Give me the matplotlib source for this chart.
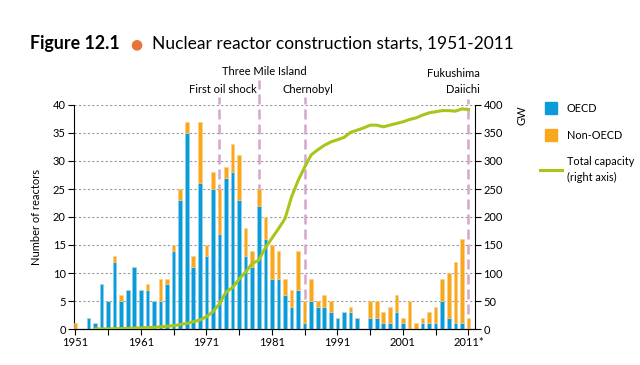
import matplotlib.pyplot as plt
import matplotlib.transforms as mtransforms
from matplotlib.lines import Line2D
import numpy as np

plt.rcParams['font.family'] = ['Lato', 'DejaVu Sans']

years = list(range(1951, 2012))
oecd = [0, 0, 2, 1, 8, 5, 12, 5, 7, 11,
        7, 7, 5, 5, 8, 14, 23, 35, 11, 26,
        13, 25, 17, 27, 28, 23, 13, 11, 22, 16,
        9, 9, 6, 4, 7, 1, 5, 4, 4, 3,
        2, 3, 3, 2, 0, 2, 2, 1, 1, 3,
        1, 0, 0, 1, 1, 1, 5, 2, 1, 1,
        0]
non_oecd = [1, 0, 0, 0, 0, 0, 1, 1, 0, 0,
            0, 1, 0, 4, 1, 1, 2, 2, 2, 11,
            2, 3, 8, 2, 5, 8, 5, 3, 3, 4,
            6, 5, 3, 3, 7, 4, 4, 1, 2, 2,
            0, 0, 1, 0, 0, 3, 3, 2, 3, 3,
            1, 5, 1, 1, 2, 3, 4, 8, 11, 15,
            2]

cap_years = list(range(1954, 2012))
capacity = [0, 0.1, 0.2, 0.5, 0.8, 1, 1.5, 2, 2.5, 3,
            4, 5, 6, 8, 10, 13, 16, 22, 31, 45,
            66, 74, 89, 102, 117, 123, 145, 162, 179, 197,
            236, 265, 289, 311, 320, 328, 334, 338, 342, 351,
            355, 359, 364, 364, 361, 364, 367, 370, 374, 377,
            382, 386, 388, 390, 390, 389, 393, 392]

events = ['First oil shock', 'Three Mile Island', 'Chernobyl', 'Fukushima\nDaiichi']
event_years = [1973, 1979, 1986, 2011]

blue = '#0a9bd9'
orange = '#f9a71b'
green = '#a5c71a'
pink = '#d4a6cd'

fig = plt.figure(figsize=(6.4, 3.65), dpi=100)
ax = fig.add_axes([74/640, 1-329/365, (475-74)/640, 224/365])

ax.bar(years, oecd, width=0.55, color=blue, edgecolor='#8fd0ef', linewidth=0.4, zorder=3)
ax.bar(years, non_oecd, bottom=oecd, width=0.55, color=orange, edgecolor='#fcd08a', linewidth=0.4, zorder=3)

ax.set_xlim(1950.8, 2012)
ax.set_ylim(0, 40)
ax.set_yticks(range(0, 41, 5))
ax.set_xticks(range(1951, 2012, 5))
ax.set_xticklabels([str(y) if (y - 1951) % 10 == 0 else '' for y in range(1951, 2011, 5)] + ['2011*'])
ax.tick_params(axis='both', labelsize=8, length=4, width=0.8, color='black', pad=2)
ax.yaxis.grid(True, color='#999999', linestyle=(0, (2, 2)), linewidth=0.8, zorder=0)
ax.set_axisbelow(True)
ax.spines['top'].set_visible(False)
ax.spines['right'].set_visible(False)
ax.set_ylabel('Number of reactors', fontsize=8, labelpad=8)

ax2 = ax.twinx()
ax2.plot(cap_years, capacity, color=green, linewidth=2.2, zorder=4)
ax2.set_ylim(0, 400)
ax2.set_yticks(range(0, 401, 50))
ax2.tick_params(axis='y', labelsize=8, length=4, width=0.8, pad=2)
ax2.spines['top'].set_visible(False)
ax2.spines['left'].set_visible(False)
fig.text(522/640, 1-115/365, 'GW', rotation=90, fontsize=8, ha='center', va='center')

# event markers sit behind the bars
trans = mtransforms.blended_transform_factory(ax.transData, ax.transAxes)
line_tops = [1.036, 1.112, 1.036, 1.025]
label_y = [1.043, 1.123, 1.043, 1.043]
label_x = [1973.5, 1979.8, 1986.5, 2012.8]
label_ha = ['center', 'center', 'center', 'right']
for name, yr, top, ly, lx, ha in zip(events, event_years, line_tops, label_y, label_x, label_ha):
    ax.plot([yr, yr], [0, top], transform=trans, color=pink, linewidth=1.8,
            linestyle=(0, (4, 2)), clip_on=False, zorder=2)
    ax.text(lx, ly, name, transform=trans, fontsize=8, ha=ha, va='bottom',
            linespacing=1.6, clip_on=False)

handles = [Line2D([], [], marker='s', color=blue, linestyle='none', markersize=8),
           Line2D([], [], marker='s', color=orange, linestyle='none', markersize=8),
           Line2D([], [], color=green, linewidth=2.2)]
leg = fig.legend(handles, ['OECD', 'Non-OECD', 'Total capacity\n(right axis)'],
                 loc='upper left', bbox_to_anchor=(540/640, 1-103/365), frameon=False,
                 fontsize=7.8, handlelength=2.0, labelspacing=1.45, handletextpad=0.45,
                 borderaxespad=0, borderpad=0)
for t in leg.get_texts():
    t.set_linespacing(1.5)

fig.text(30/640, 1-44/365, 'Figure 12.1', fontsize=12.8, fontweight='bold', va='center')
fig.text(136/640, 1-44/365, '\u25cf', fontsize=10, color='#e8743b', va='center', ha='center',
         family='DejaVu Sans')
fig.text(152/640, 1-44/365, 'Nuclear reactor construction starts, 1951-2011', fontsize=12.5, va='center')

fig.savefig('out.png', dpi=100)
